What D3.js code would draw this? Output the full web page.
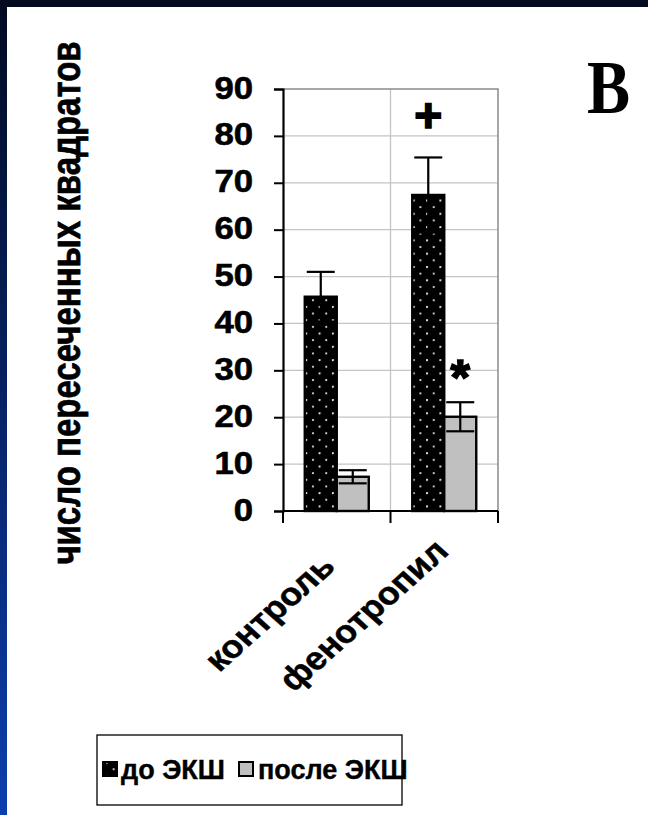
<!DOCTYPE html>
<html>
<head>
<meta charset="utf-8">
<script src="https://cdn.jsdelivr.net/npm/d3@7"></script>
<style>
  html, body { margin: 0; padding: 0; background: #ffffff; }
  svg { display: block; }
  text { font-family: "Liberation Sans", Arial, sans-serif; font-weight: bold; fill: #000; }
</style>
</head>
<body>
<svg id="chart" width="648" height="815"></svg>
<script>
// Groups on the x axis
const categories = ["контроль", "фенотропил"];
// Series shown in the legend
const seriesNames = ["до ЭКШ", "после ЭКШ"];
// Mean number of crossed squares and its error, per group
const beforeValues = [45.7, 67.4];
const beforeErrors = [5.3, 8.0];
const afterValues = [7.3, 20.1];
const afterErrors = [1.4, 3.1];
// Y axis ticks
const yTicks = [0, 10, 20, 30, 40, 50, 60, 70, 80, 90];
// Significance marks: group, series, symbol, height in axis units
const marks = [
  { group: "фенотропил", series: "до ЭКШ", symbol: "+", at: 84.5 },
  { group: "фенотропил", series: "после ЭКШ", symbol: "*", at: 30 }
];
const axisTitle = "число пересеченных квадратов";
const panelLetter = "B";

const svg = d3.select("#chart");
const W = 648, H = 815;

// Slide-style frame: dark navy top bar, blue gradient strip on the left
const defs = svg.append("defs");
const grad = defs.append("linearGradient").attr("id", "leftStrip")
  .attr("x1", 0).attr("y1", 0).attr("x2", 0).attr("y2", 1);
grad.append("stop").attr("offset", "0%").attr("stop-color", "#020a22");
grad.append("stop").attr("offset", "45%").attr("stop-color", "#06205e");
grad.append("stop").attr("offset", "100%").attr("stop-color", "#0c3fae");
svg.append("rect").attr("width", W).attr("height", H).attr("fill", "url(#leftStrip)");
svg.append("rect").attr("width", W).attr("height", 7).attr("fill", "#020b1f");
svg.append("rect").attr("x", 7).attr("y", 7).attr("width", W - 7).attr("height", H - 7).attr("fill", "#ffffff");

// Dotted fill for the dark bars
const pat = defs.append("pattern").attr("id", "dots")
  .attr("patternUnits", "userSpaceOnUse").attr("width", 13.3).attr("height", 13.3)
  .attr("x", 9).attr("y", 0);
pat.append("rect").attr("width", 13.3).attr("height", 13.3).attr("fill", "#000");
pat.append("circle").attr("cx", 1).attr("cy", 1).attr("r", 1.1).attr("fill", "#e8e8e8");
pat.append("circle").attr("cx", 7.65).attr("cy", 7.65).attr("r", 1.1).attr("fill", "#e8e8e8");

// Scales
const plot = { left: 283, right: 498, top: 89, bottom: 511 };
const y = d3.scaleLinear().domain([0, 90]).range([plot.bottom, plot.top]);
const x0 = d3.scaleBand().domain(categories).range([plot.left, plot.right]).paddingInner(0).paddingOuter(0);
const x1 = d3.scaleBand().domain(seriesNames).range([0, x0.bandwidth()]).paddingInner(0).paddingOuter(0.68);

const rows = categories.map((c, i) => ({
  cat: c,
  bars: [
    { series: seriesNames[0], value: beforeValues[i], err: beforeErrors[i] },
    { series: seriesNames[1], value: afterValues[i], err: afterErrors[i] }
  ]
}));

// Horizontal gridlines
svg.append("g").selectAll("line").data(yTicks.filter(t => t > 0 && t < 90)).join("line")
  .attr("x1", plot.left).attr("x2", plot.right)
  .attr("y1", d => y(d)).attr("y2", d => y(d))
  .attr("stroke", "#c4c4c4").attr("stroke-width", 1.3);
// Vertical gridline between groups and the plot frame
svg.append("line").attr("x1", x0(categories[1])).attr("x2", x0(categories[1]))
  .attr("y1", plot.top).attr("y2", plot.bottom).attr("stroke", "#c4c4c4").attr("stroke-width", 1.3);
svg.append("path")
  .attr("d", `M${plot.left},${plot.top}H${plot.right}V${plot.bottom}`)
  .attr("fill", "none").attr("stroke", "#8a8a8a").attr("stroke-width", 1.5);

// Bars
const groups = svg.append("g").selectAll("g").data(rows).join("g")
  .attr("transform", d => `translate(${x0(d.cat)},0)`);
groups.selectAll("rect").data(d => d.bars).join("rect")
  .attr("x", d => x1(d.series))
  .attr("width", x1.bandwidth())
  .attr("y", d => y(d.value))
  .attr("height", d => y(0) - y(d.value))
  .attr("fill", d => d.series === seriesNames[0] ? "url(#dots)" : "#c0c0c0")
  .attr("stroke", "#000").attr("stroke-width", 2.4);

// Error bars
const capW = 28;
groups.selectAll("g.err").data(d => d.bars).join("g").attr("class", "err")
  .each(function (d) {
    const g = d3.select(this);
    const cx = x1(d.series) + x1.bandwidth() / 2;
    const yt = y(d.value + d.err), yb = y(d.value - d.err);
    g.append("line").attr("x1", cx).attr("x2", cx).attr("y1", yt).attr("y2", yb)
      .attr("stroke", "#000").attr("stroke-width", 2.2);
    [yt, yb].forEach(yy => g.append("line")
      .attr("x1", cx - capW / 2).attr("x2", cx + capW / 2).attr("y1", yy).attr("y2", yy)
      .attr("stroke", "#000").attr("stroke-width", 2.2));
  });

// Y axis
const yAxis = d3.axisLeft(y).tickValues(yTicks).tickSize(9).tickFormat(d3.format("d"));
const ya = svg.append("g").attr("transform", `translate(${plot.left},0)`).call(yAxis);
ya.select(".domain").attr("stroke", "#000").attr("stroke-width", 2.2);
ya.selectAll(".tick line").attr("stroke", "#000").attr("stroke-width", 2);
ya.selectAll(".tick text").remove();
ya.selectAll(".tick").append("text")
  .attr("text-anchor", "end")
  .attr("transform", "translate(-30,9) scale(1.12,1)")
  .attr("font-size", 31)
  .attr("stroke", "#000").attr("stroke-width", 0.6)
  .text(d => d);

// X axis baseline with group separators
const xa = svg.append("g").attr("transform", `translate(0,${plot.bottom})`);
xa.append("line").attr("x1", plot.left).attr("x2", plot.right).attr("stroke", "#000").attr("stroke-width", 2.2);
xa.selectAll("line.sep").data([...categories.map(c => x0(c)), plot.right]).join("line").attr("class", "sep")
  .attr("x1", d => d).attr("x2", d => d).attr("y1", 0).attr("y2", 12)
  .attr("stroke", "#000").attr("stroke-width", 2);

// Rotated category labels
const labelShift = [[0, 568], [6, 553]];
svg.append("g").selectAll("text").data(categories).join("text")
  .attr("text-anchor", "end")
  .attr("font-size", 32)
  .attr("stroke", "#000").attr("stroke-width", 0.5)
  .attr("transform", (d, i) => `translate(${x0(d) + x0.bandwidth() / 2 + labelShift[i][0]},${labelShift[i][1]}) scale(1.12,1) rotate(-45)`)
  .text(d => d);

// Significance marks
svg.append("g").selectAll("text").data(marks).join("text")
  .attr("text-anchor", "middle")
  .attr("font-size", d => d.symbol === "+" ? 48 : 50)
  .attr("stroke", "#000").attr("stroke-width", 1.6)
  .attr("x", d => x0(d.group) + x1(d.series) + x1.bandwidth() / 2)
  .attr("y", d => y(d.at) + (d.symbol === "+" ? 17 : 25))
  .text(d => d.symbol);

// Y axis title
svg.append("text")
  .attr("text-anchor", "middle")
  .attr("font-size", 33)
  .attr("stroke", "#000").attr("stroke-width", 0.6)
  .attr("transform", "translate(80,303) scale(1.25,1) rotate(-90)")
  .text(axisTitle);

// Panel letter
svg.append("text")
  .style("font-family", "'Liberation Serif', 'Times New Roman', serif")
  .style("font-weight", "bold")
  .attr("font-size", 76)
  .attr("transform", "translate(587,113) scale(0.85,1)")
  .text(panelLetter);

// Legend
const lg = svg.append("g").attr("transform", "translate(97,735)");
lg.append("rect").attr("width", 305).attr("height", 70)
  .attr("fill", "#fff").attr("stroke", "#000").attr("stroke-width", 1.3);
const items = [
  { name: seriesNames[0], fill: "url(#dots)", sx: 6, tx: 24 },
  { name: seriesNames[1], fill: "#c0c0c0", sx: 142, tx: 161 }
];
const li = lg.selectAll("g").data(items).join("g");
li.append("rect").attr("x", d => d.sx).attr("y", 27).attr("width", 14).attr("height", 14)
  .attr("fill", d => d.fill).attr("stroke", "#000").attr("stroke-width", 2);
li.append("text").attr("x", d => d.tx).attr("y", 44).attr("font-size", 27)
  .attr("stroke", "#000").attr("stroke-width", 0.4)
  .text(d => d.name);
</script>
</body>
</html>
